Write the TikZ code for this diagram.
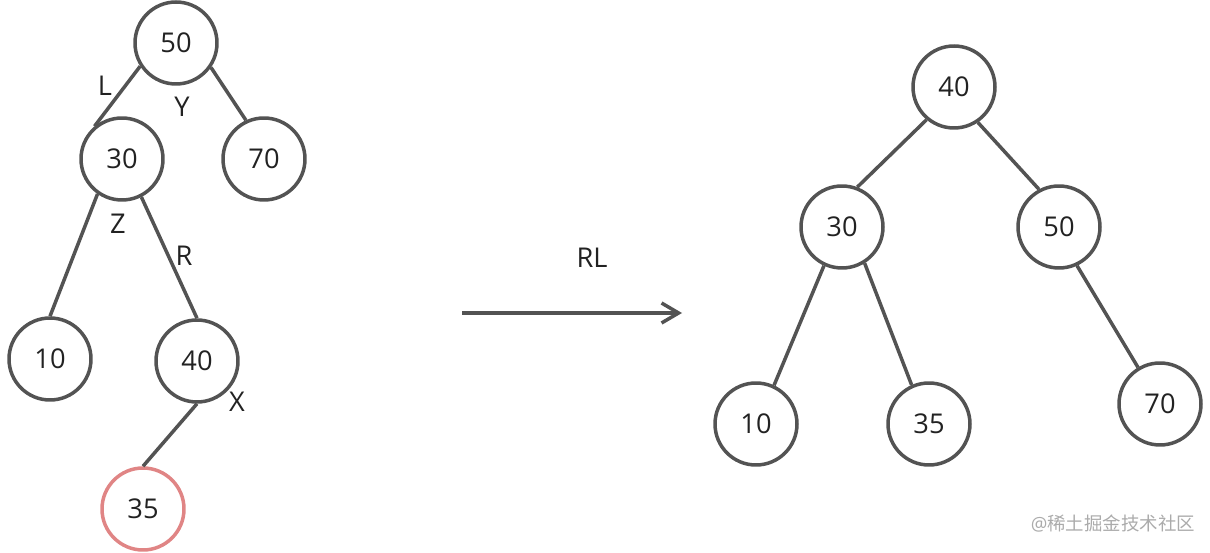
\documentclass[tikz,border=0pt]{standalone}
\usepackage{fontspec}
\setmainfont{Open Sans}
\newfontfamily\cjk{Noto Sans CJK SC}
\usepackage{xcolor}
\usepackage{tikz}
\usetikzlibrary{arrows.meta,positioning}
\definecolor{linha}{HTML}{535353}
\definecolor{texto}{HTML}{222222}
\definecolor{vermelho}{HTML}{E08585}
\definecolor{marca}{HTML}{ABABAB}
\tikzset{
    noArvore/.style={
        circle,
        draw=linha,
        line width=0.07cm,
        minimum size=1.64cm,
        inner sep=0pt,
        text=texto,
        font=\fontsize{15.5}{18}\selectfont
    },
    noNovo/.style={noArvore, draw=vermelho},
    aresta/.style={draw=linha, line width=0.07cm},
    rotulo/.style={text=texto, inner sep=0pt, font=\fontsize{15.5}{18}\selectfont},
    seta/.style={-{Straight Barb[length=0.34cm, width=0.4cm, line width=0.07cm]}, draw=linha, line width=0.07cm}
}

\begin{document}
\begin{tikzpicture}[x=0.02cm, y=-0.02cm]
        \useasboundingbox (0,0) rectangle (1210,553);

        % arvore antes da rotacao
        \node[noArvore] (a50) at (176,43) {50};
        \node[noArvore] (a30) at (122,159) {30};
        \node[noArvore] (a70) at (264,159) {70};
        \node[noArvore] (a10) at (50,359) {10};
        \node[noArvore] (a40) at (197,361) {40};
        \node[noNovo] (a35) at (143,509) {35};

        \draw[aresta] (a50.213) -- (a30.130);
        \draw[aresta] (a50.325) -- (a70.115);
        \draw[aresta] (a30.235) -- (a10.90);
        \draw[aresta] (a30.297) -- (a40.90);
        \draw[aresta] (a40.270) -- (a35.90);

        \node[rotulo] (rotL) at (105,86) {L};
        \node[rotulo] (rotY) at (182,107) {Y};
        \node[rotulo] (rotZ) at (118,224) {Z};
        \node[rotulo] (rotR) at (184,256) {R};
        \node[rotulo] (rotX) at (237,402) {X};

        % rotacao
        \coordinate (inicio) at (462,313);
        \coordinate (fim) at (682,313);
        \draw[seta] (inicio) -- (fim);
        \node[rotulo] (rotRL) at (592,258) {RL};

        % arvore depois da rotacao
        \node[noArvore] (b40) at (954,87) {40};
        \node[noArvore] (b30) at (842,227) {30};
        \node[noArvore] (b50) at (1059,227) {50};
        \node[noArvore] (b10) at (756,424) {10};
        \node[noArvore] (b35) at (929,424) {35};
        \node[noArvore] (b70) at (1160,404) {70};

        \draw[aresta] (b40.230) -- (b30.69);
        \draw[aresta] (b40.304) -- (b50.118);
        \draw[aresta] (b30.245) -- (b10.65);
        \draw[aresta] (b30.302) -- (b35.114);
        \draw[aresta] (b50.295) -- (b70.121);

        \node[text=marca, inner sep=0pt, font=\fontsize{10.5}{12}\selectfont] (marcaDagua) at (1113,524) {@\cjk 稀土掘金技术社区};
    \end{tikzpicture}
\end{document}
